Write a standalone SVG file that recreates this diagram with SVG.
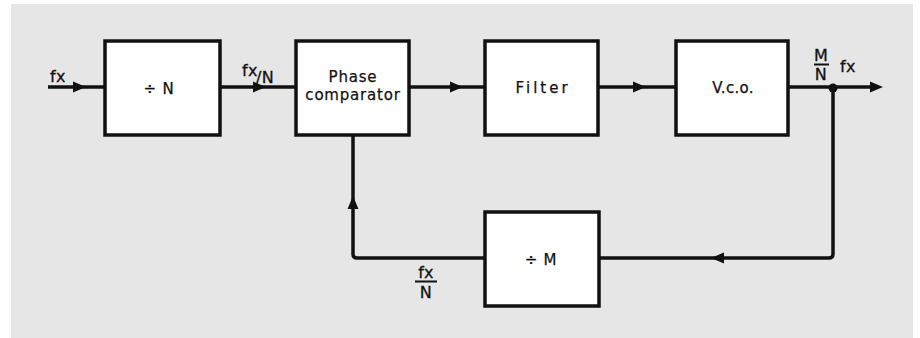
<svg xmlns="http://www.w3.org/2000/svg" xmlns:xlink="http://www.w3.org/1999/xlink" width="920" height="338" viewBox="0 0 920 338">
  <style>
    .box { fill: #ffffff; stroke: #111111; stroke-width: 3.5; }
    .wire { fill: none; stroke: #111111; stroke-width: 3.5; stroke-linejoin: round; }
    .lbl { font-family: "DejaVu Sans", "Liberation Sans", sans-serif; font-size: 15px; fill: #111111; stroke: #111111; stroke-width: 0.25px; letter-spacing: 0.8px; }
    .lbl2 { font-family: "DejaVu Sans", "Liberation Sans", sans-serif; font-size: 16px; fill: #111111; stroke: #111111; stroke-width: 0.3px; letter-spacing: 0.3px; }
    .frac { stroke: #111111; stroke-width: 2; }
  </style>
  <defs>
    <path id="ah" d="M0,0 L-13,-5.5 L-13,5.5 Z" fill="#111111"/>
  </defs>
  <rect x="11" y="4" width="902" height="334" fill="#e6e6e6"/>

  <g id="connectors">
    <line class="wire" x1="48" y1="87" x2="105" y2="87"/>
    <use xlink:href="#ah" href="#ah" transform="translate(86,87)"/>
    <line class="wire" x1="220" y1="87" x2="296" y2="87"/>
    <use xlink:href="#ah" href="#ah" transform="translate(266,87)"/>
    <line class="wire" x1="409" y1="87" x2="485" y2="87"/>
    <use xlink:href="#ah" href="#ah" transform="translate(463,87)"/>
    <line class="wire" x1="598" y1="87" x2="676" y2="87"/>
    <use xlink:href="#ah" href="#ah" transform="translate(646,87)"/>
    <line class="wire" x1="788" y1="87" x2="878" y2="87"/>
    <use xlink:href="#ah" href="#ah" transform="translate(883,87)"/>
    <circle cx="833" cy="88" r="4.5" fill="#111111"/>
    <path class="wire" d="M833,88 L833,254 Q833,258 829,258 L599,258"/>
    <use xlink:href="#ah" href="#ah" transform="translate(711,258) rotate(180)"/>
    <path class="wire" d="M485,258 L357,258 Q353,258 353,254 L353,135"/>
    <use xlink:href="#ah" href="#ah" transform="translate(353,196) rotate(-90)"/>
  </g>

  <g id="node-divN">
    <rect class="box" x="105" y="41" width="115" height="94"/>
    <text class="lbl" x="159" y="94" text-anchor="middle">÷ N</text>
  </g>
  <g id="node-phase">
    <rect class="box" x="296" y="41" width="113" height="94"/>
    <text class="lbl" x="353" y="82" text-anchor="middle">Phase</text>
    <text class="lbl" x="353" y="100" text-anchor="middle">comparator</text>
  </g>
  <g id="node-filter">
    <rect class="box" x="485" y="41" width="113" height="94"/>
    <text class="lbl" x="543" y="93" text-anchor="middle" style="letter-spacing:3px">Filter</text>
  </g>
  <g id="node-vco">
    <rect class="box" x="676" y="41" width="112" height="94"/>
    <text class="lbl" x="733" y="93" text-anchor="middle" style="letter-spacing:0.3px">V.c.o.</text>
  </g>
  <g id="node-divM">
    <rect class="box" x="485" y="212" width="114" height="94"/>
    <text class="lbl" x="541" y="265" text-anchor="middle">÷ M</text>
  </g>

  <g id="labels">
    <text class="lbl2" x="50" y="82">fx</text>
    <text class="lbl2" x="242" y="76">fx</text>
    <text class="lbl2" x="256" y="83">/N</text>
    <text class="lbl2" x="821" y="61" text-anchor="middle">M</text>
    <line class="frac" x1="814" y1="64.5" x2="829" y2="64.5"/>
    <text class="lbl2" x="821" y="80" text-anchor="middle">N</text>
    <text class="lbl2" x="840" y="72">fx</text>
    <text class="lbl2" x="426" y="278" text-anchor="middle">fx</text>
    <line class="frac" x1="415" y1="281.5" x2="437" y2="281.5"/>
    <text class="lbl2" x="426" y="298" text-anchor="middle">N</text>
  </g>
</svg>
